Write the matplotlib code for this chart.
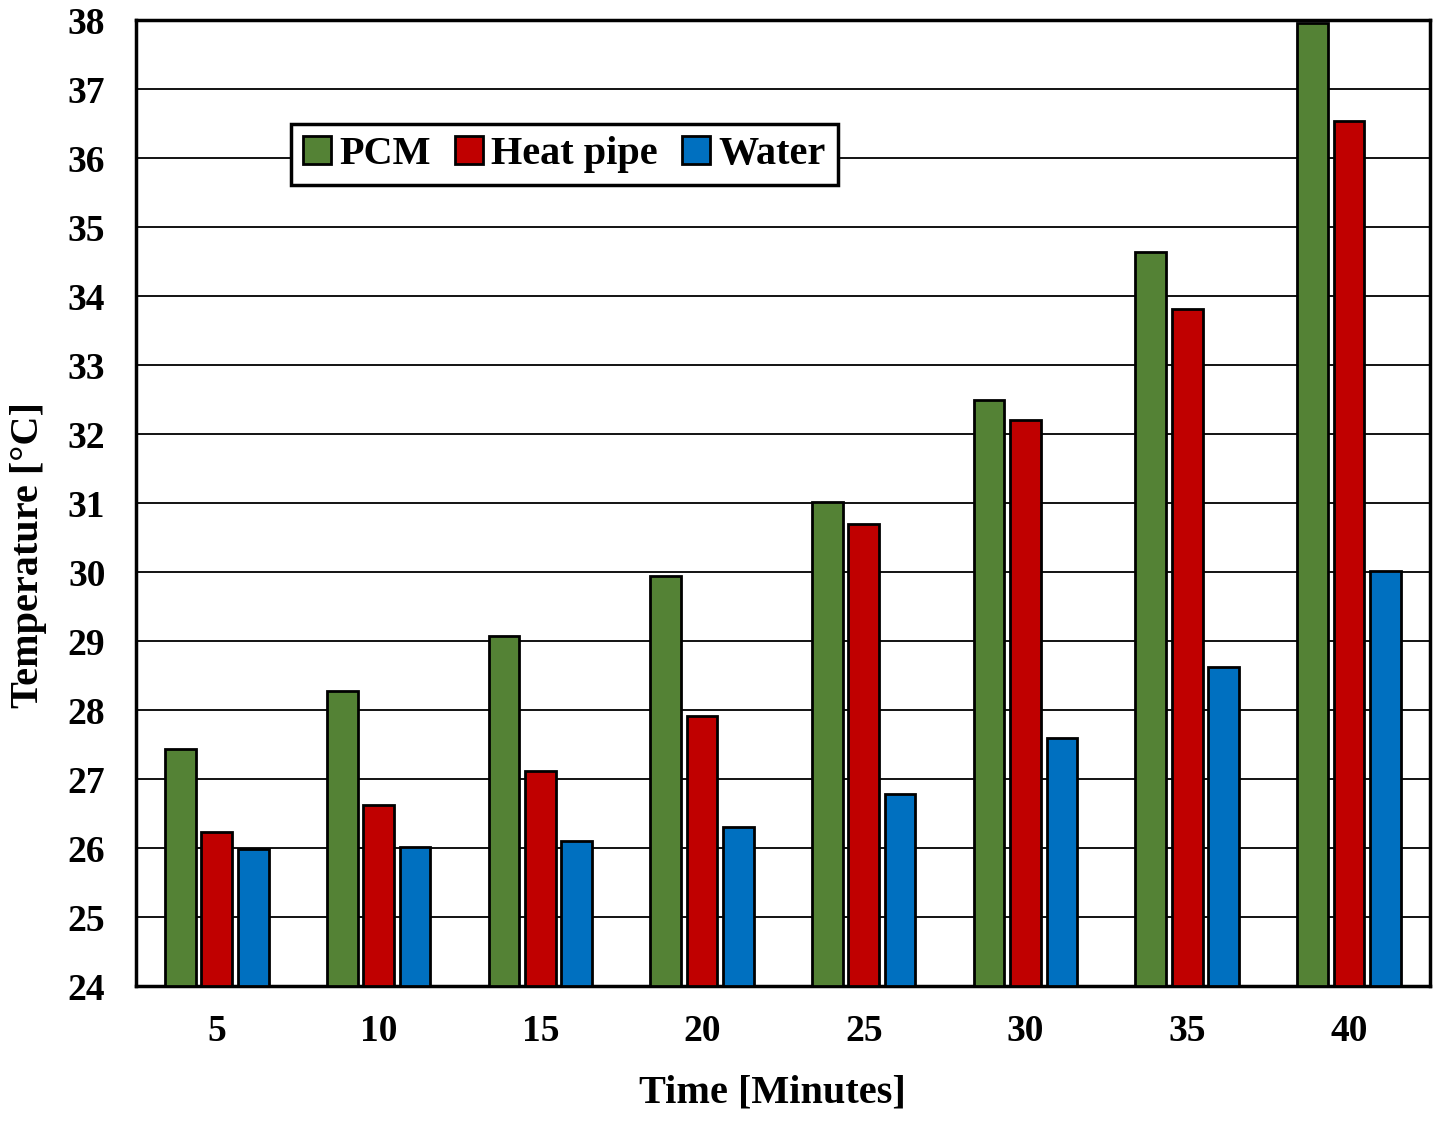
import numpy as np
import matplotlib.pyplot as plt

times = ['5', '10', '15', '20', '25', '30', '35', '40']
pcm = [27.43, 28.27, 29.07, 29.94, 31.02, 32.50, 34.64, 37.96]
heat_pipe = [26.23, 26.62, 27.11, 27.92, 30.69, 32.21, 33.82, 36.54]
water = [25.99, 26.01, 26.10, 26.30, 26.79, 27.59, 28.62, 30.01]

plt.rcParams['font.family'] = ['Liberation Serif', 'DejaVu Serif']
plt.rcParams['font.weight'] = 'bold'

fig = plt.figure(figsize=(14.37, 11.21), dpi=100)
ax = fig.add_axes([0.0946, 0.1204, 0.9004, 0.8616])

x = np.arange(len(times))
w = 0.19
off = 0.225
ax.bar(x - off, np.array(pcm) - 24, w, bottom=24, color='#548235', edgecolor='black', linewidth=2, label='PCM', zorder=3)
ax.bar(x, np.array(heat_pipe) - 24, w, bottom=24, color='#C00000', edgecolor='black', linewidth=2, label='Heat pipe', zorder=3)
ax.bar(x + off, np.array(water) - 24, w, bottom=24, color='#0070C0', edgecolor='black', linewidth=2, label='Water', zorder=3)

ax.set_xlim(-0.5, len(times) - 0.5)
ax.set_ylim(24, 38)
ax.set_yticks(np.arange(24, 39, 1))
ax.set_xticks(x)
ax.set_xticklabels(times)
ax.tick_params(axis='both', length=0, labelsize=27)
ax.tick_params(axis='y', pad=22)
ax.tick_params(axis='x', pad=20)
ax.yaxis.grid(True, color='black', linewidth=1.3, zorder=0)
ax.set_axisbelow(True)
for s in ax.spines.values():
    s.set_linewidth(2.5)

ax.set_xlabel('Time [Minutes]', fontsize=29, fontweight='bold')
ax.set_ylabel('Temperature [°C]', fontsize=29, fontweight='bold')
ax.xaxis.set_label_coords(0.492, -0.092)
ax.yaxis.set_label_coords(-0.069, 0.446)

leg = ax.legend(loc='upper left', bbox_to_anchor=(0.12, 0.893), ncol=3, fontsize=29,
                frameon=True, fancybox=False, edgecolor='black', framealpha=1,
                handlelength=0.7, handleheight=0.7, handletextpad=0.2, columnspacing=0.6,
                borderpad=0.3, borderaxespad=0)
leg.get_frame().set_linewidth(2.5)

fig.savefig('out.png', dpi=100)
